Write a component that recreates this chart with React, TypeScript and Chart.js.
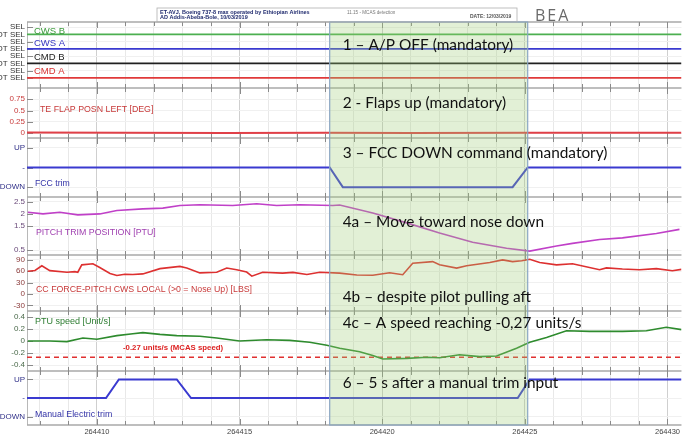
import React, { useEffect, useRef } from "react";
import { Chart, registerables } from "chart.js";
Chart.register(...registerables);

const T_MIN = 264407.55;
const T_MAX = 264430.49;
const xLabelEvery = 5;
const shadeStart = 264418.16;
const shadeEnd = 264425.1;

// Panel 1: discrete selection states
const selTime = [T_MIN, T_MAX];
const cwsB = [6, 6];
const cwsA = [4, 4];
const cmdB = [2, 2];
const cmdA = [0, 0];
const selTicks = [0, 1, 2, 3, 4, 5, 6, 7];
const selTickLabels = ["NOT SEL", "SEL", "NOT SEL", "SEL", "NOT SEL", "SEL", "NOT SEL", "SEL"];

// Panel 2: TE flap
const flapTime = [264407.55, 264411, 264414.5, 264418, 264421, 264425, 264430.49];
const flapValues = [0.01, 0.005, 0.0, 0.005, 0.0, 0.005, 0.005];
const flapTicks = [0, 0.25, 0.5, 0.75];

// Panel 3: FCC trim
const fccTime = [264407.55, 264418.16, 264418.62, 264424.57, 264425.1, 264430.49];
const fccValues = [0, 0, -1, -1, 0, 0];
const trimCmdTicks = [-1, 0, 1];
const trimCmdLabels = ["DOWN", "-", "UP"];

// Panel 4: pitch trim position
const trimTime = [264407.58, 264408.11, 264408.7, 264409.33, 264410.1, 264410.7, 264411.61, 264412.31, 264412.91, 264413.61, 264414.76, 264415.6, 264416.3, 264417.11, 264418.27, 264418.51, 264419.67, 264420.86, 264422.01, 264423.17, 264424.36, 264425.17, 264426.11, 264426.67, 264427.62, 264428.42, 264429.61, 264430.42];
const trimValues = [2.07, 2.0, 2.07, 1.96, 2.0, 2.14, 2.21, 2.24, 2.35, 2.38, 2.35, 2.42, 2.35, 2.38, 2.35, 2.37, 2.04, 1.63, 1.21, 0.83, 0.58, 0.46, 0.67, 0.78, 0.94, 1.01, 1.19, 1.36];
const trimTicks = [0.5, 1.5, 2, 2.5];

// Panel 5: column force
const forceTime = [264407.58, 264407.83, 264408.07, 264408.35, 264408.95, 264409.23, 264409.33, 264409.47, 264409.86, 264410.1, 264410.46, 264410.7, 264410.98, 264411.26, 264411.61, 264412.21, 264412.91, 264413.15, 264413.61, 264414.2, 264414.55, 264414.9, 264415.25, 264415.43, 264415.81, 264416.51, 264416.87, 264417.36, 264417.81, 264418.51, 264419.11, 264419.67, 264420.26, 264420.72, 264421.07, 264421.77, 264422.01, 264422.61, 264422.96, 264423.77, 264424.22, 264424.57, 264424.89, 264425.17, 264425.52, 264426.11, 264426.67, 264427.62, 264427.86, 264428.42, 264429.02, 264429.61, 264430.17, 264430.49];
const forceValues = [60, 62, 74.6, 61.7, 57.4, 59, 57.4, 77, 79.7, 70, 54, 49, 52, 51.4, 53, 66.9, 72.9, 68.6, 55.7, 57.4, 68.6, 64, 58, 47, 57.4, 55, 57, 51.4, 57.4, 55, 50, 49.4, 56, 51, 81.4, 85.6, 77, 68.4, 74.5, 83, 90, 85.6, 88, 91.7, 83, 77, 80, 64, 69, 66, 64, 67, 61.5, 65];
const forceTicks = [-30, 0, 30, 60, 90];

// Panel 6: PTU speed
const ptuTime = [264407.58, 264408.35, 264408.95, 264409.51, 264410.0, 264410.7, 264411.26, 264411.61, 264412.21, 264412.8, 264413.61, 264414.2, 264415.0, 264415.95, 264416.76, 264417.46, 264418.06, 264418.51, 264419.21, 264419.67, 264420.02, 264420.86, 264421.56, 264422.01, 264422.71, 264423.42, 264424.01, 264424.71, 264425.17, 264425.76, 264426.46, 264427.27, 264428.42, 264429.26, 264429.96, 264430.49];
const ptuValues = [0.0, 0.0, -0.01, 0.05, 0.03, 0.09, 0.12, 0.14, 0.11, 0.09, 0.08, 0.05, 0.0, 0.02, 0.01, -0.02, -0.07, -0.12, -0.18, -0.24, -0.3, -0.29, -0.27, -0.28, -0.23, -0.26, -0.25, -0.12, -0.02, 0.06, 0.17, 0.16, 0.16, 0.17, 0.23, 0.19];
const mcasTime = [T_MIN, T_MAX];
const mcasValues = [-0.27, -0.27];
const ptuTicks = [-0.4, -0.2, 0, 0.2, 0.4];

// Panel 7: manual electric trim
const manualTime = [264407.55, 264410.32, 264410.77, 264412.8, 264413.3, 264424.75, 264425.17, 264430.49];
const manualValues = [0, 0, 1, 1, 0, 0, 1, 1];

const annotations = [
  "1 \u2013 A/P OFF (mandatory)",
  "2 - Flaps up (mandatory)",
  "3 \u2013 FCC DOWN command (mandatory)",
  "4a \u2013 Move toward nose down",
  "4b \u2013 despite pilot pulling aft",
  "4c \u2013 A speed reaching -0,27 units/s",
  "6 \u2013 5 s after a manual trim input",
];
const annotationY = [45, 103, 153, 222, 297, 323, 383];

const pts = (ts: number[], vs: number[]) => ts.map((t, i) => ({ x: t, y: vs[i] }));

const SANS = '"Liberation Sans", Arial, sans-serif';
const PANEL_IDS = ["ySel", "yFlap", "yFcc", "yTrim", "yForce", "yPtu", "yManual"];

function yScale(weight: number, stackWeight: number, min: number, max: number, ticks: number[], labels: string[] | null, color: string) {
  return {
    type: "linear",
    position: "left",
    stack: "panels",
    stackWeight,
    weight,
    min,
    max,
    afterBuildTicks: (s: any) => {
      s.ticks = ticks.map((v) => ({ value: v }));
    },
    afterFit: (s: any) => {
      s.width = 34;
    },
    ticks: {
      autoSkip: false,
      padding: 2,
      color,
      font: { family: SANS, size: 8 },
      callback: (v: number) => {
        const i = ticks.indexOf(v);
        if (labels) return i >= 0 ? labels[i] : "";
        return String(v);
      },
    },
    grid: { color: "#f0f0f0", drawTicks: false, lineWidth: 1 },
    border: { display: false },
  };
}

const panelPlugin = {
  id: "panelPlugin",
  beforeDatasetsDraw(chart: any) {
    const { ctx, chartArea } = chart;
    const xs = chart.scales.x;
    ctx.save();
    ctx.strokeStyle = "#b8b8b8";
    ctx.lineWidth = 1;
    ctx.beginPath();
    ctx.moveTo(chartArea.left + 0.5, chartArea.top);
    ctx.lineTo(chartArea.left + 0.5, chartArea.bottom);
    ctx.stroke();
    ctx.strokeStyle = "#8a8a8a";
    PANEL_IDS.forEach((id) => {
      const s = chart.scales[id];
      s.ticks.forEach((t: any) => {
        const y = Math.round(s.getPixelForValue(t.value)) + 0.5;
        ctx.beginPath();
        ctx.moveTo(chartArea.left, y);
        ctx.lineTo(chartArea.left + 6, y);
        ctx.stroke();
      });
    });
    const bounds: number[] = [chart.scales[PANEL_IDS[0]].top];
    PANEL_IDS.forEach((id) => bounds.push(chart.scales[id].bottom));
    bounds.forEach((b, bi) => {
      ctx.strokeStyle = "#a8a8a8";
      ctx.lineWidth = 1.5;
      ctx.beginPath();
      ctx.moveTo(chartArea.left, b);
      ctx.lineTo(chartArea.right, b);
      ctx.stroke();
      ctx.lineWidth = 1;
      ctx.strokeStyle = "#8a8a8a";
      for (let t = Math.ceil(T_MIN); t <= T_MAX; t++) {
        const x = Math.round(xs.getPixelForValue(t)) + 0.5;
        const len = t % 5 === 0 ? 6 : 4;
        const up = bi === 0 ? 0 : len;
        const down = bi === bounds.length - 1 ? 0 : len;
        ctx.beginPath();
        ctx.moveTo(x, b - up);
        ctx.lineTo(x, b + down);
        ctx.stroke();
      }
    });
    ctx.restore();
  },
  afterDatasetsDraw(chart: any) {
    const { ctx, chartArea } = chart;
    const xs = chart.scales.x;
    const sc = (id: string) => chart.scales[id];
    ctx.save();
    const x0 = xs.getPixelForValue(shadeStart);
    const x1 = xs.getPixelForValue(shadeEnd);
    ctx.fillStyle = "rgba(160, 205, 120, 0.3)";
    ctx.fillRect(x0, chartArea.top, x1 - x0, chartArea.bottom - chartArea.top);
    ctx.strokeStyle = "#8aa6c4";
    ctx.lineWidth = 1.2;
    ctx.strokeRect(x0, chartArea.top, x1 - x0, chartArea.bottom - chartArea.top);

    ctx.textBaseline = "middle";
    ctx.textAlign = "left";
    const lx = chartArea.left + 8;
    const label = (txt: string, x: number, y: number, color: string, font: string) => {
      ctx.fillStyle = color;
      ctx.font = font;
      ctx.fillText(txt, x, y);
    };
    const p1 = sc("ySel").top;
    label("CWS B", lx - 1, p1 + 9, "#3a9a3a", `9.5px ${SANS}`);
    label("CWS A", lx - 1, p1 + 21, "#3434c0", `9.5px ${SANS}`);
    label("CMD B", lx - 1, p1 + 35, "#222222", `9.5px ${SANS}`);
    label("CMD A", lx - 1, p1 + 49, "#d83030", `9.5px ${SANS}`);
    label("TE FLAP POSN LEFT [DEG]", lx + 5, sc("yFlap").top + 22, "#c83a3a", `8.8px ${SANS}`);
    label("FCC trim", lx, sc("yFcc").top + 46, "#3434a8", `8.7px ${SANS}`);
    label("PITCH TRIM POSITION [PTU]", lx + 1, sc("yTrim").top + 36, "#a040b0", `8.8px ${SANS}`);
    label("CC FORCE-PITCH CWS LOCAL (>0 = Nose Up) [LBS]", lx + 1, sc("yForce").top + 35, "#c83a3a", `8.8px ${SANS}`);
    label("PTU speed [Unit/s]", lx, sc("yPtu").top + 11, "#2e7d32", `9px ${SANS}`);
    label("-0.27 units/s (MCAS speed)", chartArea.left + 96, sc("yPtu").top + 37, "#dd2222", `bold 7.8px ${SANS}`);
    label("Manual Electric trim", lx, sc("yManual").top + 44, "#3434a8", `8.8px ${SANS}`);

    const ax = x0 + 13;
    ctx.fillStyle = "#111111";
    ctx.font = '15.4px Lato, "Open Sans", sans-serif';
    annotations.forEach((a, i) => ctx.fillText(a, ax, annotationY[i]));
    ctx.restore();
  },
  afterDraw(chart: any) {
    const { ctx } = chart;
    ctx.save();
    const off = 7;
    ctx.strokeStyle = "#b0b0b0";
    ctx.lineWidth = 0.8;
    ctx.strokeRect(157 + off, 8, 360, 14);
    ctx.textBaseline = "middle";
    ctx.textAlign = "left";
    ctx.fillStyle = "#1f2a6e";
    ctx.font = `bold 5.5px ${SANS}`;
    ctx.fillText("ET-AVJ, Boeing 737-8 max operated by Ethiopian Airlines", 160 + off, 12);
    ctx.fillText("AD Addis-Abeba-Bole, 10/03/2019", 160 + off, 17.5);
    ctx.fillStyle = "#777777";
    ctx.font = `4.6px ${SANS}`;
    ctx.fillText("11.15 - MCAS detection", 347 + off, 12.5);
    ctx.fillStyle = "#555555";
    ctx.font = `bold 5px ${SANS}`;
    ctx.fillText("DATE: 12/03/2019", 470 + off, 16.5);
    ctx.fillStyle = "#6a6a6a";
    ctx.font = '16px "Open Sans", sans-serif';
    (ctx as any).letterSpacing = "2px";
    ctx.fillText("BEA", 535 + off, 16);
    ctx.restore();
  },
};

export default function App() {
  const ref = useRef<HTMLCanvasElement>(null);
  useEffect(() => {
    if (!ref.current) return;
    const line = (data: any[], yAxisID: string, color: string, width: number, extra: any = {}) => ({
      data,
      yAxisID,
      borderColor: color,
      backgroundColor: color,
      borderWidth: width,
      pointRadius: 0,
      fill: false,
      tension: 0,
      ...extra,
    });
    const chart = new Chart(ref.current, {
      type: "line",
      data: {
        datasets: [
          line(pts(selTime, cwsB), "ySel", "#4caf50", 1.6),
          line(pts(selTime, cwsA), "ySel", "#3a3ad0", 1.8),
          line(pts(selTime, cmdB), "ySel", "#202020", 1.6),
          line(pts(selTime, cmdA), "ySel", "#e03a3a", 1.8),
          line(pts(flapTime, flapValues), "yFlap", "#e04048", 2),
          line(pts(fccTime, fccValues), "yFcc", "#3a3ad0", 2),
          line(pts(trimTime, trimValues), "yTrim", "#c040c8", 1.6),
          line(pts(forceTime, forceValues), "yForce", "#dd3030", 1.6),
          line(pts(ptuTime, ptuValues), "yPtu", "#2e8b2e", 1.6),
          line(pts(mcasTime, mcasValues), "yPtu", "#e03030", 1.5, { borderDash: [5, 4] }),
          line(pts(manualTime, manualValues), "yManual", "#3a3ad0", 2),
        ],
      },
      options: {
        animation: false,
        responsive: true,
        maintainAspectRatio: false,
        events: [],
        layout: { padding: { top: 22, left: 0, right: 0, bottom: 0 } },
        plugins: { legend: { display: false }, tooltip: { enabled: false } },
        scales: {
          x: {
            type: "linear",
            min: T_MIN,
            max: T_MAX,
            afterFit: (s: any) => {
              s.height = 13;
            },
            ticks: {
              stepSize: 1,
              includeBounds: false,
              autoSkip: false,
              maxRotation: 0,
              padding: 2,
              color: "#444444",
              font: { family: SANS, size: 7.5 },
              callback: (v: number) => (Math.abs(v % xLabelEvery) < 1e-6 ? String(Math.round(v)) : ""),
            },
            grid: {
              drawTicks: false,
              tickLength: 3,
              color: (c: any) => (c.tick && Math.abs(c.tick.value % 5) < 1e-6 ? "#cfcfcf" : "#e8e8e8"),
            },
            border: { display: false },
          },
          ySel: yScale(7, 66, -1.4, 7.7, selTicks, selTickLabels, "#333333"),
          yFlap: yScale(6, 50, -0.11, 1.0, flapTicks, null, "#c83a3a"),
          yFcc: yScale(5, 59, -1.5, 1.5, trimCmdTicks, trimCmdLabels, "#303088"),
          yTrim: yScale(4, 58, 0.3, 2.7, trimTicks, null, "#6a4a7a"),
          yForce: yScale(3, 56, -45, 103, forceTicks, null, "#8a3a3a"),
          yPtu: yScale(2, 60, -0.5, 0.5, ptuTicks, null, "#4a6a4a"),
          yManual: yScale(1, 54, -1.45, 1.45, trimCmdTicks, trimCmdLabels, "#303088"),
        } as any,
      },
      plugins: [panelPlugin as any],
    });
    return () => chart.destroy();
  }, []);
  return (
    <div style={{ position: "fixed", left: -7, top: 0, width: 689, height: 438, background: "#ffffff" }}>
      <canvas ref={ref} style={{ display: "block" }} />
    </div>
  );
}
